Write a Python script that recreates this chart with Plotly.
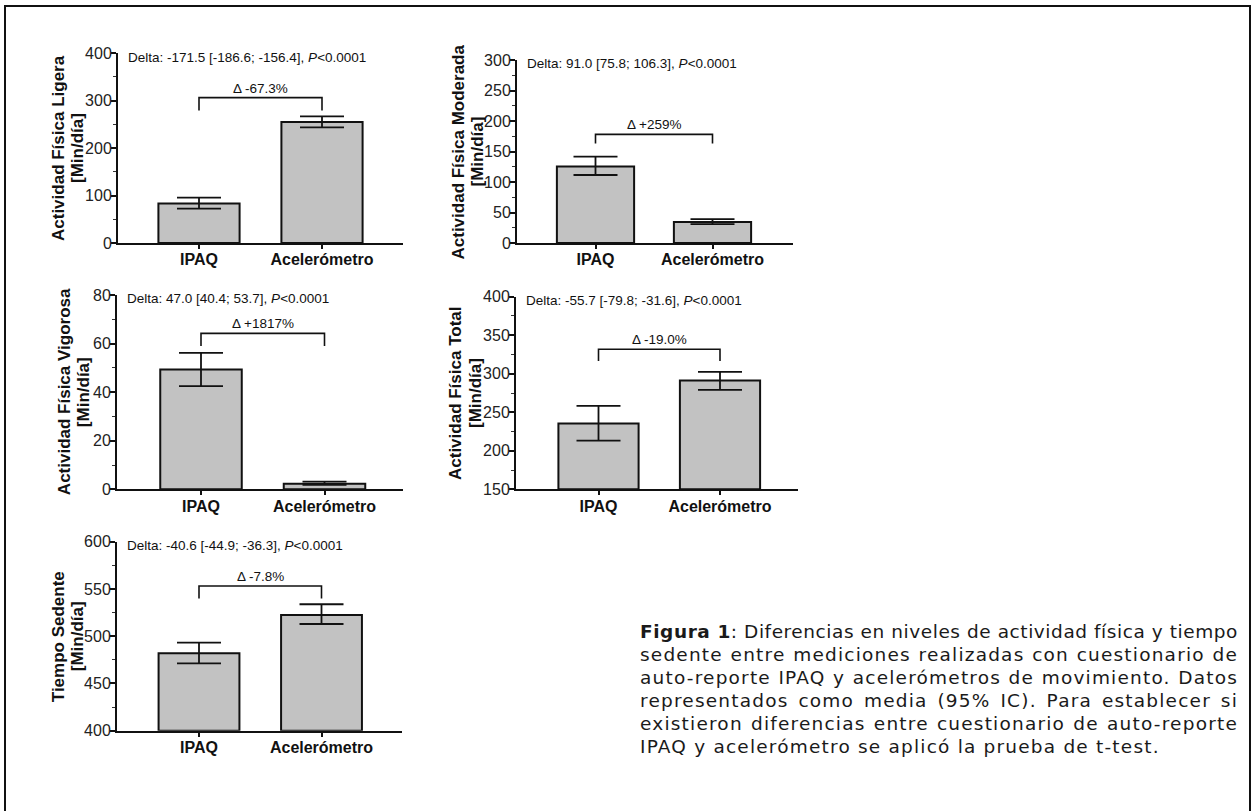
import plotly.graph_objects as go

W, H = 1256, 811

categories = ["IPAQ", "Acelerómetro"]

# Means and 95% CI (lower, upper)
ligera_mean = [83.2, 254.7]
ligera_lo = [72.4, 243.6]
ligera_hi = [95.6, 266.7]

moderada_mean = [125.5, 34.5]
moderada_lo = [111.5, 31.0]
moderada_hi = [141.5, 39.0]

vigorosa_mean = [49.3, 2.3]
vigorosa_lo = [42.5, 1.8]
vigorosa_hi = [56.2, 3.2]

total_mean = [235.5, 291.2]
total_lo = [213.1, 279.0]
total_hi = [258.2, 302.3]

sedente_mean = [481.9, 522.4]
sedente_lo = [471.3, 512.9]
sedente_hi = [493.1, 533.8]

y_titles = ["Actividad Física Ligera", "Actividad Física Moderada",
            "Actividad Física Vigorosa", "Actividad Física Total", "Tiempo Sedente"]
y_unit = "[Min/día]"
delta_texts = ["Delta: -171.5 [-186.6; -156.4], <i>P</i>&lt;0.0001",
               "Delta: 91.0 [75.8; 106.3], <i>P</i>&lt;0.0001",
               "Delta: 47.0 [40.4; 53.7], <i>P</i>&lt;0.0001",
               "Delta: -55.7 [-79.8; -31.6], <i>P</i>&lt;0.0001",
               "Delta: -40.6 [-44.9; -36.3], <i>P</i>&lt;0.0001"]
pct_texts = ["Δ -67.3%", "Δ +259%", "Δ +1817%", "Δ -19.0%", "Δ -7.8%"]
bracket_top = [306, 178, 64.2, 331.8, 553.1]
bracket_foot = [279, 163, 59.0, 316.6, 540]
y_ranges = [[0, 400], [0, 300], [0, 80], [150, 400], [400, 600]]
y_dticks = [100, 50, 20, 50, 50]
y_minor = [50, 25, 10, 25, 25]

caption_lines = [
    "<b>Figura 1</b>: Diferencias en niveles de actividad física y tiempo",
    "sedente entre mediciones realizadas con cuestionario de",
    "auto-reporte IPAQ y acelerómetros de movimiento. Datos",
    "representados como media (95% IC). Para establecer si",
    "existieron diferencias entre cuestionario de auto-reporte",
    "IPAQ y acelerómetro se aplicó la prueba de t-test.",
]

means = [ligera_mean, moderada_mean, vigorosa_mean, total_mean, sedente_mean]
los = [ligera_lo, moderada_lo, vigorosa_lo, total_lo, sedente_lo]
his = [ligera_hi, moderada_hi, vigorosa_hi, total_hi, sedente_hi]

# panel pixel boxes: left, right, top, bottom, first bar centre, bar spacing,
# title line-1 x, title line-2 x
boxes = [
    (118, 403, 53, 243, 199, 123, 58, 77),
    (517, 793, 60, 243, 595.5, 117, 458, 477),
    (117, 403, 295, 489.3, 201, 123.5, 64, 83),
    (516, 798, 296.7, 489.3, 598.5, 121.5, 455, 475),
    (117, 402, 541.7, 730.7, 199, 122.5, 58, 77),
]

FONT = "Liberation Sans, Arial, sans-serif"
CAPFONT = "DejaVu Sans, Open Sans, sans-serif"
fig = go.Figure()
annotations = []
layout = {}

for i in range(5):
    n = i + 1
    xa = "x" if n == 1 else f"x{n}"
    ya = "y" if n == 1 else f"y{n}"
    l, r, t, b, c0, s, tx1, tx2 = boxes[i]
    m, lo, hi = means[i], los[i], his[i]
    base = y_ranges[i][0]
    fig.add_trace(go.Bar(
        x=categories, y=[v - base for v in m], base=base if base else None,
        width=0.66, xaxis=xa, yaxis=ya,
        marker=dict(color="#c2c2c2", line=dict(color="#111111", width=2)),
        error_y=dict(type="data", array=[h - v for h, v in zip(hi, m)],
                     arrayminus=[v - q for v, q in zip(m, lo)],
                     color="#111111", thickness=1.8, width=22),
        hoverinfo="skip",
    ))
    fig.add_trace(go.Scatter(
        x=[categories[0], categories[0], categories[1], categories[1]],
        y=[bracket_foot[i], bracket_top[i], bracket_top[i], bracket_foot[i]],
        mode="lines", line=dict(color="#111111", width=1.6),
        xaxis=xa, yaxis=ya, hoverinfo="skip",
    ))
    kx = "xaxis" if n == 1 else f"xaxis{n}"
    ky = "yaxis" if n == 1 else f"yaxis{n}"
    layout[kx] = dict(
        domain=[l / W, r / W], anchor=ya, type="category", automargin=False,
        range=[(l - c0) / s, (r - c0) / s],
        showline=True, linecolor="#111111", linewidth=2,
        ticks="outside", ticklen=4, tickwidth=1.5, tickcolor="#111111",
        ticklabelstandoff=-3,
        tickfont=dict(family=FONT, size=16, color="#111111", weight="bold"),
        showgrid=False, zeroline=False, fixedrange=True,
    )
    layout[ky] = dict(
        domain=[1 - b / H, 1 - t / H], anchor=xa, automargin=False,
        range=y_ranges[i], dtick=y_dticks[i], tick0=y_ranges[i][0],
        showline=True, linecolor="#111111", linewidth=2,
        ticks="outside", ticklen=5, tickwidth=1.6, tickcolor="#111111",
        ticklabelstandoff=-4,
        minor=dict(dtick=y_minor[i], ticks="outside", ticklen=3,
                   tickwidth=1.3, tickcolor="#333333", showgrid=False),
        tickfont=dict(family=FONT, size=16, color="#222222"),
        showgrid=False, zeroline=False, fixedrange=True,
    )
    # y-axis title (two lines)
    for txt, xx in ((y_titles[i], tx1), (y_unit, tx2)):
        annotations.append(dict(
            xref="paper", yref="paper", x=xx / W, y=1 - ((t + b) / 2) / H,
            xanchor="center", yanchor="middle", textangle=-90, showarrow=False,
            text=f"<b>{txt}</b>",
            font=dict(family=FONT, size=17, color="#111111"),
        ))
    # delta text
    annotations.append(dict(
        xref=f"{xa} domain", yref=f"{ya} domain", x=8 / (r - l), y=1,
        xanchor="left", yanchor="middle", yshift=-4, showarrow=False,
        text=delta_texts[i], font=dict(family=FONT, size=13.5, color="#111111"),
    ))
    # percentage label above bracket
    annotations.append(dict(
        xref=xa, yref=ya, x=0.5, y=bracket_top[i],
        xanchor="center", yanchor="bottom", yshift=0, showarrow=False,
        text=pct_texts[i], font=dict(family=FONT, size=13.5, color="#111111"),
    ))

# caption as one multi-line text block
annotations.append(dict(
    xref="paper", yref="paper", x=638 / W, y=1 - 619 / H,
    xanchor="left", yanchor="top", align="left", showarrow=False,
    text="<br>".join(caption_lines),
    font=dict(family=CAPFONT, size=18.5, color="#1a1a1a"),
))

fig.update_layout(
    width=W, height=H, margin=dict(l=0, r=0, t=0, b=0, autoexpand=False),
    paper_bgcolor="white", plot_bgcolor="white", showlegend=False,
    annotations=annotations,
    shapes=[dict(type="rect", xref="paper", yref="paper",
                 x0=5 / W, x1=1250 / W, y0=-0.02, y1=1 - 6 / H,
                 line=dict(color="#111111", width=2))],
    **layout,
)

# page without body margin + justified caption (as in the printed figure)
justify_js = """
(function(){
  var gd = document.getElementById('{plot_id}');
  function fix(){
    document.body.style.margin = '0';
    var t = null;
    gd.querySelectorAll('text.annotation-text').forEach(function(e){
      if ((e.getAttribute('style') || '').indexOf('DejaVu Sans') >= 0) t = e;
    });
    if (!t) return;
    var lines = Array.prototype.slice.call(t.querySelectorAll('tspan.line'));
    if (!lines.length) return;
    t.style.letterSpacing = '0px';
    lines.forEach(function(l, i){
      l.setAttribute('dy', (i * 23) + 'px');
      l.style.letterSpacing = '';
      l.style.wordSpacing = '0px';
    });
    var n = lines.length, last = lines[n - 1];
    var ls = (522 - last.getBoundingClientRect().width) / last.textContent.length;
    ls = Math.max(-0.6, Math.min(1.2, ls));
    t.style.letterSpacing = ls + 'px';
    lines.forEach(function(l, i){
      if (i === n - 1) return;
      var w = l.getBoundingClientRect().width;
      if (w > 598) {
        l.style.letterSpacing = (ls + (598 - w) / l.textContent.length) + 'px';
      } else {
        var sp = (l.textContent.match(/ /g) || []).length;
        if (sp > 0) l.style.wordSpacing = ((598 - w) / sp) + 'px';
      }
    });
  }
  fix();
  if (document.fonts && document.fonts.ready) document.fonts.ready.then(fix);
  if (gd.on) gd.on('plotly_afterplot', fix);
})();
"""

fig.write_html("out.html", post_script=justify_js,
               config={"displayModeBar": False})
